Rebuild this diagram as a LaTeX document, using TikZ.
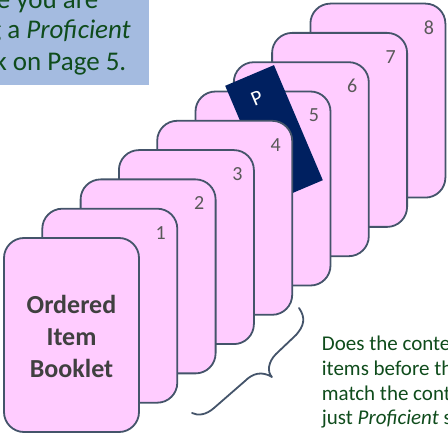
\documentclass[tikz,border=0pt]{standalone}
\usepackage{fontspec}
\setmainfont{Carlito}
\definecolor{cardfill}{HTML}{FFCCFF}
\definecolor{cardline}{HTML}{44546A}
\definecolor{numgray}{HTML}{595959}
\definecolor{labelgray}{HTML}{404040}
\definecolor{navy}{HTML}{002060}
\definecolor{boxblue}{RGB}{164,187,224}
\definecolor{textgreen}{HTML}{0F4C1C}
\begin{document}
\begin{tikzpicture}[x=1pt,y=-1pt,
  card/.style={draw=cardline, fill=cardfill, line width=1.8pt, rounded corners=20pt,
    minimum width=135pt, minimum height=194pt, inner sep=0, outer sep=0, anchor=north west},
  numlabel/.style={font=\fontsize{20}{24}\selectfont, text=numgray, inner sep=0},
  toptext/.style={font=\fontsize{27}{32}\selectfont, text=textgreen, inner sep=0, anchor=base east},
  sidetext/.style={font=\fontsize{21}{24.5}\selectfont, text=textgreen, inner sep=0, anchor=base west},
  bracestyle/.style={draw=cardline, line width=1.8pt, line cap=round, line join=round}]
\useasboundingbox (0,0) rectangle (448,433);
\clip (0,0) rectangle (448,433);
% question box (top left)
\fill[boxblue] (0,0) rectangle (148.5,85.5);
\node[toptext] (q1) at (98.5,8.5) {e you are};
\node[toptext] (q2) at (131,38.5) {g a \textit{Proficient}};
\node[toptext] (q3) at (126.5,70.5) {k on Page 5.};
% back cards 8..5
\foreach \k in {8,7,6,5}{
  \pgfmathsetmacro\cl{4+38.3*\k}
  \pgfmathsetmacro\ct{238-29.3*\k}
  \node[card] (c\k) at (\cl,\ct) {};
  \node[numlabel] (n\k) at ([xshift=-16.5pt,yshift=-24pt]c\k.north east) {\k};
}
% bookmark
\node[fill=navy, minimum width=53pt, minimum height=125pt, inner sep=0, rotate=23] (prect) at (274,133) {};
\node[text=white, font=\fontsize{21}{24}\selectfont, rotate=23, inner sep=0] (ptext) at (257,98) {P};
% front cards 4..1
\foreach \k in {4,3,2,1}{
  \pgfmathsetmacro\cl{4+38.3*\k}
  \pgfmathsetmacro\ct{238-29.3*\k}
  \node[card] (c\k) at (\cl,\ct) {};
  \node[numlabel] (n\k) at ([xshift=-16.5pt,yshift=-24pt]c\k.north east) {\k};
}
\node[card] (c0) at (4,238) {};
\node[font=\fontsize{26}{32}\selectfont\bfseries, text=labelgray, align=center, inner sep=0] (booklet) at (71.5,336) {Ordered\\Item\\Booklet};
% brace
\draw[bracestyle] (299,308) .. controls (306,318) and (304,326) .. (296,335) -- (276,354)
  .. controls (268,362) and (267,372) .. (272,377)
  .. controls (262,371) and (253,373) .. (245,381) -- (214,408)
  .. controls (206,415) and (198,416) .. (192,413);
% side text
\node[sidetext] (s1) at (321.7,350.7) {Does the conte};
\node[sidetext] (s2) at (321.7,375.5) {items before th};
\node[sidetext] (s3) at (321.7,400) {match the cont};
\node[sidetext] (s4) at (321.7,424.5) {just \textit{Proficient} s};
\end{tikzpicture}
\end{document}
